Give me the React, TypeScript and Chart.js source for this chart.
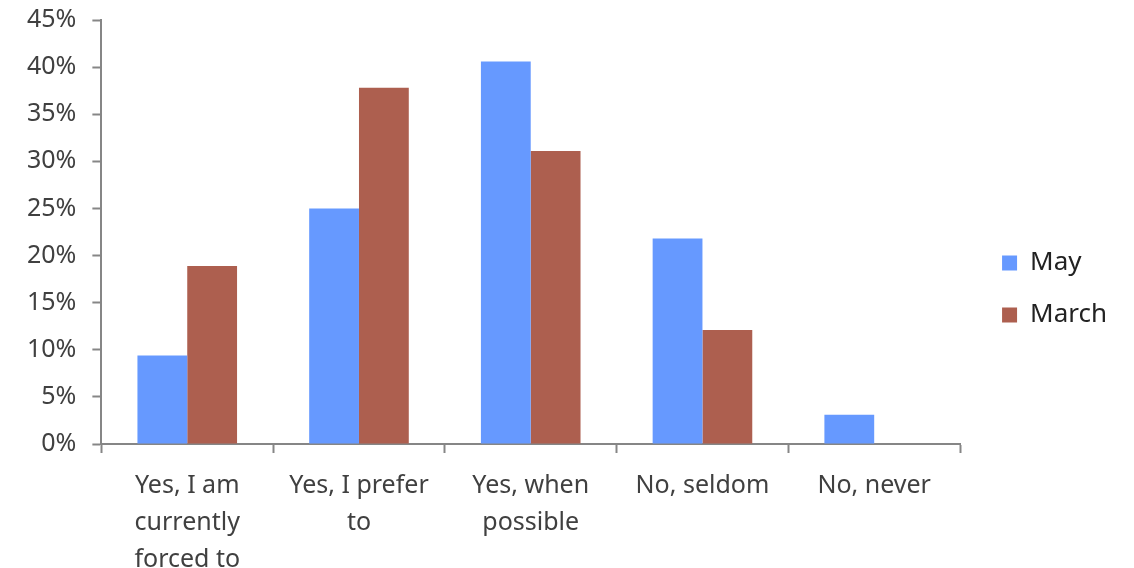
import React, { useEffect, useRef } from "react";
import { Chart, registerables } from "chart.js";

Chart.register(...registerables);

const categories: string[][] = [
  ["Yes, I am", "currently", "forced to"],
  ["Yes, I prefer", "to"],
  ["Yes, when", "possible"],
  ["No, seldom"],
  ["No, never"],
];
const mayValues = [9.4, 25.0, 40.6, 21.8, 3.1];
const marchValues = [18.9, 37.8, 31.1, 12.1, 0];
const yTicks = [0, 5, 10, 15, 20, 25, 30, 35, 40, 45];

const AXIS = "#868686";
const TEXT = "#404040";
const FONT = "'Noto Sans', sans-serif";

// Widen the gap between the plot area and the right-hand legend,
// and lift the legend to sit around the middle of the canvas.
const LEGEND_EXTRA = 11;
const LEGEND_SHIFT_X = 16;
const LEGEND_SHIFT_Y = -17;
const legendGap = {
  id: "legendGap",
  afterInit(chart: any) {
    const lg = chart.legend;
    if (!lg) return;
    const fit = lg.fit;
    lg.fit = function (this: any) {
      fit.call(this);
      this.width += LEGEND_EXTRA;
    };
  },
  afterLayout(chart: any) {
    const lg = chart.legend;
    if (!lg) return;
    lg.left += LEGEND_SHIFT_X;
    lg.right += LEGEND_SHIFT_X;
    lg.top += LEGEND_SHIFT_Y;
    lg.bottom += LEGEND_SHIFT_Y;
  },
};

export default function App() {
  const ref = useRef<HTMLCanvasElement | null>(null);

  useEffect(() => {
    if (!ref.current) return;
    const chart = new Chart(ref.current, {
      type: "bar",
      data: {
        labels: categories,
        datasets: [
          {
            label: "May",
            data: mayValues,
            backgroundColor: "#6699FF",
            barPercentage: 1,
            categoryPercentage: 0.58,
          },
          {
            label: "March",
            data: marchValues,
            backgroundColor: "#AD5F4F",
            barPercentage: 1,
            categoryPercentage: 0.58,
          },
        ],
      },
      plugins: [legendGap],
      options: {
        animation: false,
        responsive: true,
        maintainAspectRatio: false,
        layout: { padding: { top: 20, right: 22, left: 11, bottom: -24 } },
        plugins: {
          legend: {
            position: "right",
            labels: {
              boxWidth: 15,
              boxHeight: 15,
              padding: 26,
              color: "#222",
              font: { family: FONT, size: 26 },
            },
          },
          tooltip: { enabled: false },
        },
        scales: {
          x: {
            offset: true,
            grid: {
              offset: true,
              drawOnChartArea: false,
              tickLength: 9,
              tickColor: AXIS,
              tickWidth: 2,
            },
            border: { color: AXIS, width: 2 },
            ticks: {
              color: TEXT,
              padding: 14,
              maxRotation: 0,
              autoSkip: false,
              font: { family: FONT, size: 25, lineHeight: "37px" },
            },
          },
          y: {
            min: 0,
            max: 45,
            afterBuildTicks: (axis: any) => {
              axis.ticks = yTicks.map((v) => ({ value: v }));
            },
            afterFit: (axis: any) => {
              axis.paddingTop = 0;
            },
            grid: {
              drawOnChartArea: false,
              tickLength: 9,
              tickColor: AXIS,
              tickWidth: 2,
            },
            border: { color: AXIS, width: 2 },
            ticks: {
              color: TEXT,
              padding: 16,
              font: { family: FONT, size: 25 },
              callback: (v: any) => `${v}%`,
            },
          },
        },
      },
    });
    return () => chart.destroy();
  }, []);

  return (
    <div style={{ position: "fixed", left: 0, top: 0, width: 1134, height: 568, background: "#fff" }}>
      <canvas ref={ref} />
    </div>
  );
}
